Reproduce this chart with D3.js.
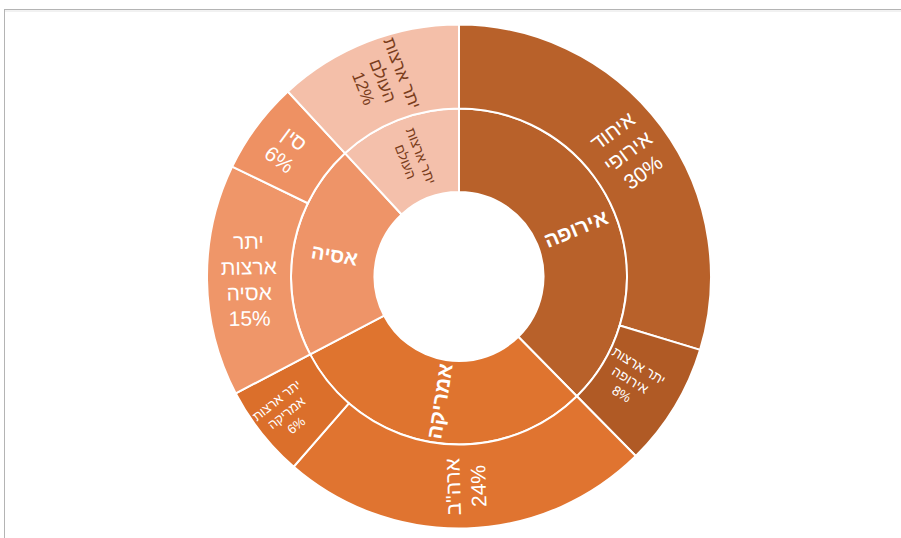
<!DOCTYPE html>
<html><head><meta charset="utf-8">
<script src="https://cdn.jsdelivr.net/npm/d3@7"></script>
<style>body{margin:0;background:#fff} svg{display:block}</style>
</head><body>
<svg id="c" width="901" height="538"></svg>
<script>
// ---- data ----
const regions = ["אירופה", "אמריקה", "אסיה", "יתר ארצות העולם"];
const countries = [
  ["איחוד אירופי", "יתר ארצות אירופה"],
  ["ארה\"ב", "יתר ארצות אמריקה"],
  ["יתר ארצות אסיה", "סין"],
  ["יתר ארצות העולם"]
];
const shares = [[30, 8], [24, 6], [15, 6], [12]];

// ---- style ----
const regionColors = ["#B8612A", "#DF742F", "#EE9468", "#F4C0AB"];
const countryColors = [["#B8612A", "#B05A25"], ["#E07430", "#DB6F2B"], ["#EF9669", "#EE9163"], ["#F4BFA9"]];
const regionStyle = [
  {groups: [1], size: 21, bold: true, color: "#fff"},
  {groups: [1], size: 21, bold: true, color: "#fff"},
  {groups: [1], size: 20, bold: true, color: "#fff"},
  {groups: [2, 1], size: 13.5, bold: false, color: "#7a3d1c"}
];
const countryStyle = [
  [{groups: [1, 1], size: 21, color: "#fff", dr: 0}, {groups: [2, 1], size: 13.5, color: "#fff", dr: -10}],
  [{groups: [1], size: 21, color: "#fff", dr: 0}, {groups: [2, 1], size: 13, color: "#fff", dr: 10}],
  [{groups: [1, 1, 1], size: 21, color: "#fff", dr: 0}, {groups: [1], size: 21, color: "#fff", dr: 4}],
  [{groups: [2, 1], size: 17, color: "#7a3d1c", dr: 0}]
];

const W = 901, H = 538, cx = 459, cy = 276.5;
const svg = d3.select("#c");

// frame
svg.append("rect").attr("x", 4.5).attr("y", 9.5).attr("width", 1000).attr("height", 1000)
  .attr("fill", "none").attr("stroke", "#b4b4b4").attr("stroke-width", 1);
svg.append("line").attr("x1", 5).attr("x2", W).attr("y1", 11).attr("y2", 11)
  .attr("stroke", "#e4e4e4").attr("stroke-width", 1);

// hierarchy
const tree = {
  name: "root",
  children: regions.map((r, i) => ({
    name: r, ri: i,
    children: countries[i].map((c, j) => ({name: c, ri: i, ci: j, value: shares[i][j]}))
  }))
};
const root = d3.hierarchy(tree).sum(d => d.value || 0);
d3.partition().size([2 * Math.PI, 3])(root);

const radius = d3.scaleLinear().domain([1, 2, 3]).range([84.5, 168, 252]);
const arc = d3.arc()
  .startAngle(d => d.x0).endAngle(d => d.x1)
  .innerRadius(d => radius(d.y0)).outerRadius(d => radius(d.y1));

const g = svg.append("g").attr("transform", `translate(${cx},${cy})`);
const nodes = root.descendants().filter(d => d.depth > 0);

g.selectAll("path").data(nodes).join("path")
  .attr("d", arc)
  .attr("fill", d => d.depth === 1 ? regionColors[d.data.ri] : countryColors[d.data.ri][d.data.ci])
  .attr("stroke", "#fff").attr("stroke-width", 2);

// labels
const fmt = v => v + "%";
nodes.forEach(d => {
  const st = d.depth === 1 ? regionStyle[d.data.ri] : countryStyle[d.data.ri][d.data.ci];
  const words = d.data.name.split(" ");
  const lines = [];
  let k = 0;
  st.groups.forEach(n => { lines.push(words.slice(k, k + n).join(" ")); k += n; });
  if (k < words.length) lines[lines.length - 1] += " " + words.slice(k).join(" ");
  if (d.depth === 2) lines.push(fmt(d.value));
  const a = (d.x0 + d.x1) / 2;
  const r = (radius(d.y0) + radius(d.y1)) / 2 + (st.dr || 0);
  let rot = a * 180 / Math.PI - 90;
  if (rot > 80) rot -= 180;
  const lh = st.size * 1.22;
  const t = g.append("g")
    .attr("transform", `translate(${r * Math.sin(a)},${-r * Math.cos(a)}) rotate(${rot})`)
    .append("text")
    .attr("text-anchor", "middle")
    .attr("font-family", "'Liberation Sans', Arial, 'DejaVu Sans', sans-serif")
    .attr("font-size", st.size)
    .attr("font-weight", st.bold ? "bold" : "normal")
    .attr("fill", st.color);
  lines.forEach((ln, i) => {
    t.append("tspan").attr("x", 0)
      .attr("y", (i - (lines.length - 1) / 2) * lh)
      .attr("dominant-baseline", "central")
      .text(ln);
  });
});
</script>
</body></html>
